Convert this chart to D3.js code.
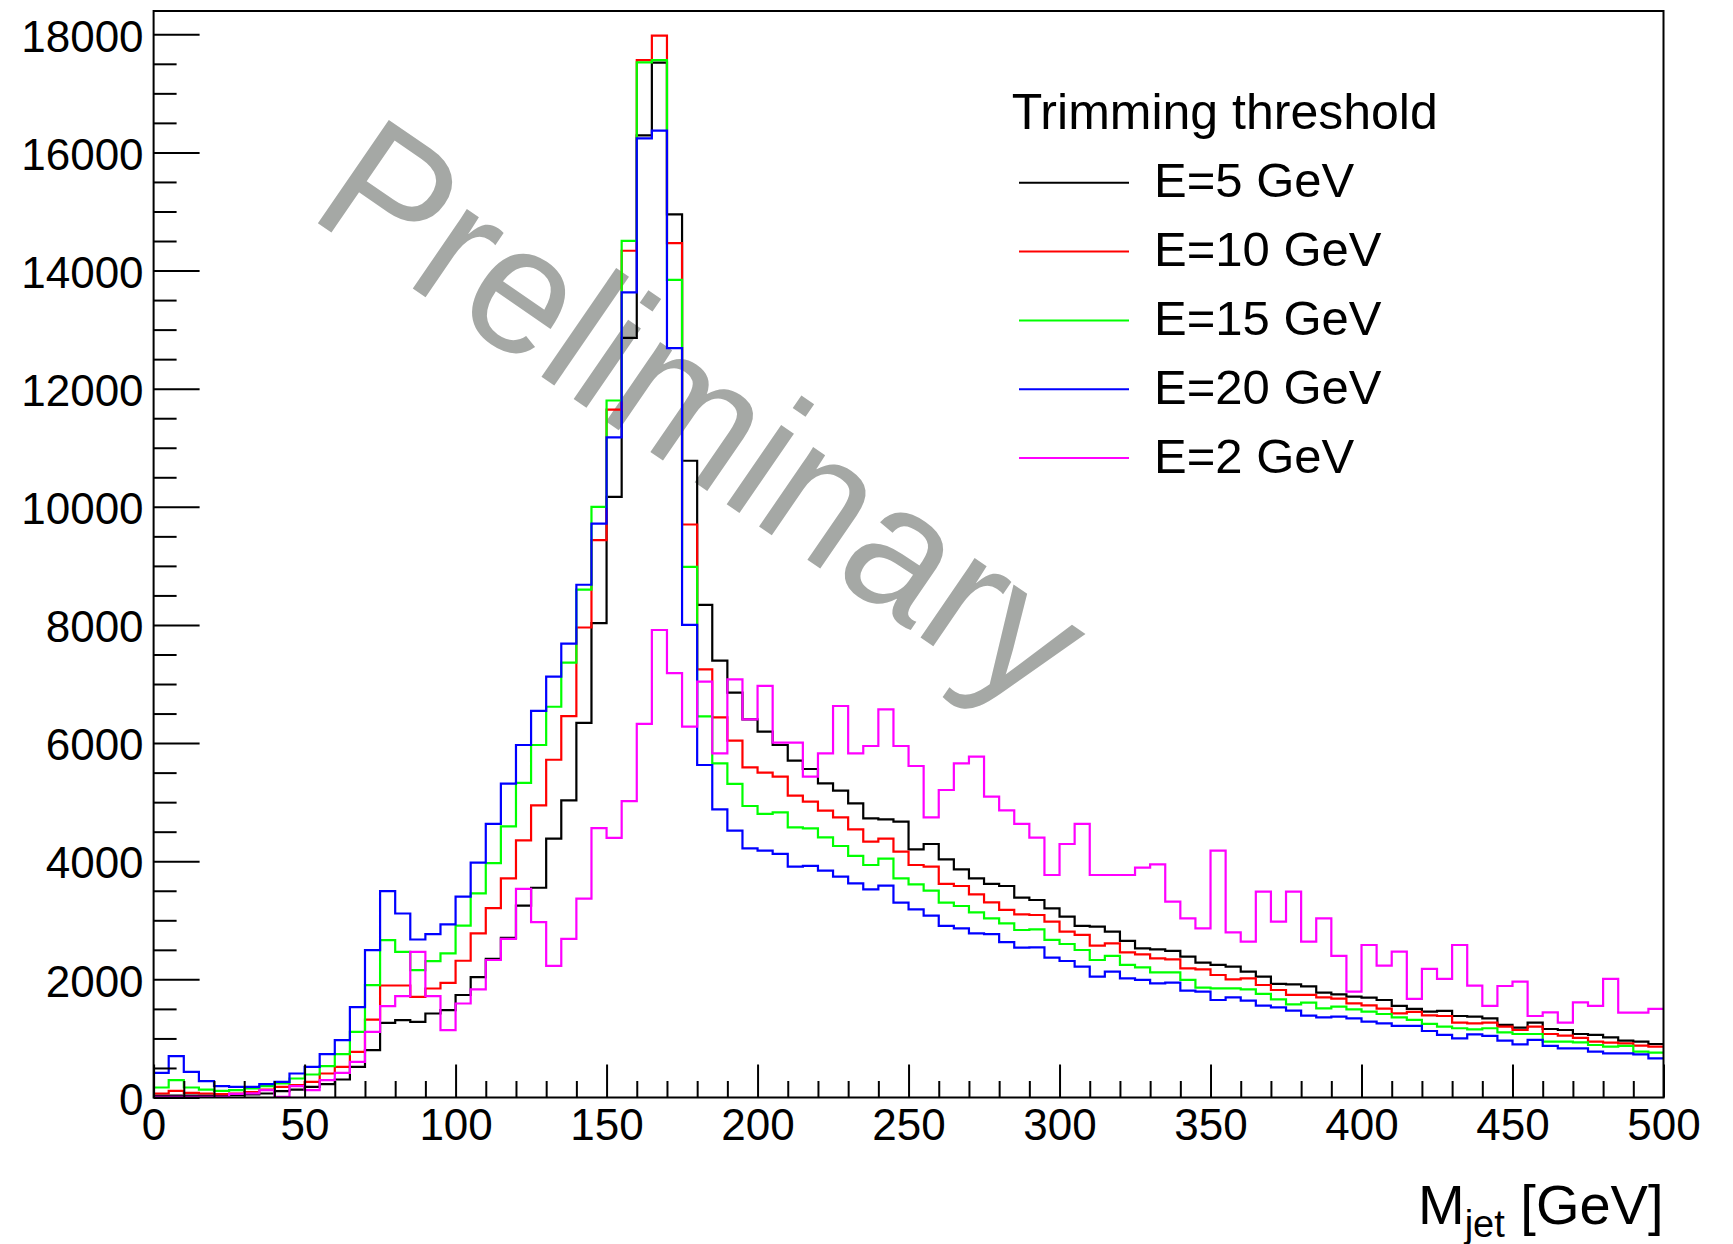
<!DOCTYPE html>
<html>
<head>
<meta charset="utf-8">
<script src="https://cdn.jsdelivr.net/npm/d3@7/dist/d3.min.js"></script>
<style>
  body { margin: 0; background: #fff; }
  svg { display: block; font-family: "Liberation Sans", Arial, Helvetica, sans-serif; }
</style>
</head>
<body>
<div id="chart"></div>
<script>
// bins of 5 GeV from 0 to 500
var binLow = d3.range(0, 500, 5);

// E=5 GeV (black)
var e5 = [34, 34, 34, 34, 34, 40, 51, 68, 107, 135,
  181, 226, 305, 519, 801, 1264, 1309, 1281, 1422, 1480,
  1735, 2037, 2346, 2702, 3248, 3551, 4382, 5030, 6342, 8030,
  10170, 12860, 16290, 17520, 14950, 10780, 8340, 7397, 6854, 6402,
  6194, 5968, 5703, 5561, 5319, 5195, 4980, 4726, 4709, 4670,
  4202, 4292, 4032, 3863, 3711, 3615, 3581, 3383, 3344, 3203,
  3062, 2904, 2893, 2808, 2650, 2526, 2509, 2481, 2385, 2283,
  2244, 2215, 2131, 2046, 1922, 1916, 1880, 1775, 1747, 1708,
  1691, 1651, 1550, 1499, 1454, 1465, 1380, 1369, 1341, 1228,
  1183, 1267, 1160, 1143, 1075, 1059, 1019, 963, 946, 906];

// E=10 GeV (red)
var e10 = [68, 113, 79, 68, 56, 68, 90, 135, 181, 209,
  265, 406, 519, 773, 1320, 1896, 1896, 1704, 1845, 1940,
  2315, 2779, 3207, 3711, 4353, 4946, 5718, 6455, 7957, 9437,
  11644, 14335, 17562, 17977, 14463, 9701, 7249, 6436, 6041, 5590,
  5500, 5432, 5110, 5009, 4856, 4743, 4540, 4331, 4382, 4162,
  3936, 3908, 3615, 3581, 3440, 3305, 3175, 3101, 3090, 2977,
  2808, 2752, 2571, 2610, 2458, 2424, 2356, 2340, 2187, 2170,
  2074, 2001, 2018, 1905, 1820, 1736, 1736, 1696, 1674, 1595,
  1561, 1505, 1425, 1448, 1392, 1380, 1267, 1256, 1267, 1200,
  1143, 1200, 1075, 1047, 1008, 946, 929, 918, 878, 861];

// E=15 GeV (green)
var e15 = [169, 293, 169, 135, 113, 124, 152, 192, 237, 322,
  389, 530, 734, 1112, 1902, 2663, 2466, 2156, 2308, 2440,
  2910, 3456, 3967, 4590, 5326, 5968, 6615, 7363, 8598, 10000,
  11800, 14501, 17524, 17562, 13843, 8983, 6452, 5658, 5308, 4935,
  4800, 4828, 4574, 4557, 4405, 4258, 4089, 3936, 4044, 3711,
  3609, 3502, 3299, 3242, 3135, 3034, 2949, 2836, 2847, 2667,
  2599, 2497, 2328, 2396, 2244, 2204, 2119, 2119, 1990, 1860,
  1849, 1849, 1832, 1753, 1662, 1578, 1606, 1510, 1538, 1493,
  1454, 1414, 1358, 1313, 1245, 1200, 1172, 1155, 1172, 1104,
  1075, 1075, 946, 946, 934, 889, 861, 873, 776, 760];

// E=20 GeV (blue)
var e20 = [418, 700, 435, 277, 192, 181, 181, 226, 265, 406,
  519, 734, 971, 1529, 2494, 3493, 3115, 2675, 2765, 2930,
  3400, 3978, 4632, 5315, 5968, 6544, 7126, 7684, 8681, 9717,
  11175, 13632, 16239, 16368, 12687, 8001, 5629, 4879, 4518, 4219,
  4179, 4123, 3908, 3920, 3840, 3739, 3626, 3524, 3587, 3299,
  3186, 3079, 2904, 2864, 2780, 2765, 2630, 2537, 2543, 2368,
  2311, 2215, 2046, 2131, 2018, 1990, 1933, 1945, 1809, 1792,
  1651, 1696, 1640, 1555, 1527, 1470, 1386, 1357, 1369, 1341,
  1285, 1256, 1211, 1211, 1126, 1059, 1002, 1070, 1042, 963,
  901, 974, 873, 833, 833, 776, 748, 748, 731, 664];

// E=2 GeV (magenta)
var e2 = [11, 11, 11, 11, 11, 60, 70, 124, 10, 192,
  124, 293, 418, 604, 1112, 1546, 1715, 2466, 1715, 1140,
  1591, 1829, 2328, 2684, 3533, 2969, 2227, 2684, 3367, 4560,
  4394, 5018, 6324, 7915, 7185, 6278, 7040, 5827, 7080, 6402,
  6967, 6007, 6007, 5432, 5827, 6628, 5827, 5951, 6572, 5951,
  5612, 4743, 5206, 5658, 5770, 5093, 4860, 4631, 4399, 3767,
  4292, 4631, 3767, 3767, 3767, 3891, 3948, 3316, 3034, 2864,
  4179, 2797, 2638, 3485, 2977, 3485, 2638, 3034, 2396, 1792,
  2582, 2232, 2469, 1668, 2176, 2007, 2582, 1894, 1550, 1888,
  1961, 1380, 1442, 1267, 1612, 1550, 2007, 1437, 1437, 1499];

var seriesNames = ["E=5 GeV", "E=10 GeV", "E=15 GeV", "E=20 GeV", "E=2 GeV"];
var seriesValues = [e5, e10, e15, e20, e2];
var seriesColors = ["#000000", "#ff0000", "#00ff00", "#0000ff", "#ff00ff"];

var yMajorTicks = [0, 2000, 4000, 6000, 8000, 10000, 12000, 14000, 16000, 18000];
var xMajorTicks = [0, 50, 100, 150, 200, 250, 300, 350, 400, 450, 500];

var width = 1733, height = 1244;
var plot = { left: 153.6, right: 1663.5, top: 11, bottom: 1097.5 };

var x = d3.scaleLinear().domain([0, 500]).range([plot.left, plot.right]);
var y = d3.scaleLinear().domain([0, 18394]).range([plot.bottom, plot.top]);

var svg = d3.select("#chart").append("svg")
  .attr("width", width)
  .attr("height", height);

svg.append("defs").append("clipPath")
  .attr("id", "plotClip")
  .append("rect")
  .attr("x", plot.left).attr("y", plot.top)
  .attr("width", plot.right - plot.left)
  .attr("height", plot.bottom - plot.top);

// watermark behind the histograms
svg.append("text")
  .attr("transform", "translate(306,215) rotate(34.5)")
  .attr("font-size", 182)
  .attr("fill", "#a5a8a5")
  .attr("textLength", 880)
  .attr("lengthAdjust", "spacingAndGlyphs")
  .text("Preliminary");

// histograms as step lines
var step = d3.line()
  .x(function (d) { return x(d[0]); })
  .y(function (d) { return y(d[1]); })
  .curve(d3.curveStepAfter);

var histG = svg.append("g").attr("clip-path", "url(#plotClip)");
seriesValues.forEach(function (vals, i) {
  var pts = binLow.map(function (b, k) { return [b, vals[k]]; });
  pts.push([500, vals[vals.length - 1]]);
  histG.append("path")
    .attr("d", step(pts))
    .attr("fill", "none")
    .attr("stroke", seriesColors[i])
    .attr("stroke-width", 2.2);
});

// frame
svg.append("rect")
  .attr("x", plot.left).attr("y", plot.top)
  .attr("width", plot.right - plot.left)
  .attr("height", plot.bottom - plot.top)
  .attr("fill", "none")
  .attr("stroke", "#000")
  .attr("stroke-width", 2);

// y axis: ticks point inward
var yMinor = d3.range(0, 18394, 500).filter(function (v) { return v % 2000 !== 0; });
var yAxisMinor = svg.append("g")
  .attr("transform", "translate(" + plot.left + ",0)")
  .call(d3.axisLeft(y).tickValues(yMinor).tickSize(-23).tickFormat(""));
var yAxis = svg.append("g")
  .attr("transform", "translate(" + plot.left + ",0)")
  .call(d3.axisLeft(y).tickValues(yMajorTicks).tickSize(-46).tickPadding(10).tickFormat(d3.format("d")));

// x axis
var xMinor = d3.range(0, 501, 10).filter(function (v) { return v % 50 !== 0; });
var xAxisMinor = svg.append("g")
  .attr("transform", "translate(0," + plot.bottom + ")")
  .call(d3.axisBottom(x).tickValues(xMinor).tickSize(-16.5).tickFormat(""));
var xAxis = svg.append("g")
  .attr("transform", "translate(0," + plot.bottom + ")")
  .call(d3.axisBottom(x).tickValues(xMajorTicks).tickSize(-33).tickPadding(11).tickFormat(d3.format("d")));

[yAxisMinor, yAxis, xAxisMinor, xAxis].forEach(function (g) {
  g.select(".domain").remove();
  g.selectAll(".tick line").attr("stroke", "#000").attr("stroke-width", 2);
  g.selectAll(".tick text")
    .attr("fill", "#000")
    .attr("font-size", 44)
    .attr("font-family", "\"Liberation Sans\", Arial, Helvetica, sans-serif");
});
yAxis.selectAll(".tick text").attr("dy", "0.38em");

// x axis title
var xt = svg.append("text")
  .attr("x", plot.right)
  .attr("y", 1224)
  .attr("text-anchor", "end")
  .attr("font-size", 56)
  .attr("fill", "#000");
xt.append("tspan").text("M");
xt.append("tspan").attr("font-size", 38).attr("dy", 13).text("jet");
xt.append("tspan").attr("dy", -13).text(" [GeV]");

// legend
var legend = svg.append("g");
legend.append("text")
  .attr("x", 1011.7)
  .attr("y", 129.3)
  .attr("font-size", 50)
  .attr("fill", "#000")
  .text("Trimming threshold");

var entry = legend.selectAll(".entry")
  .data(seriesNames)
  .enter()
  .append("g")
  .attr("class", "entry")
  .attr("transform", function (d, i) { return "translate(0," + (i * 68.85) + ")"; });
entry.append("line")
  .attr("x1", 1019).attr("x2", 1129)
  .attr("y1", 182.7).attr("y2", 182.7)
  .attr("stroke", function (d, i) { return seriesColors[i]; })
  .attr("stroke-width", 2);
entry.append("text")
  .attr("x", 1154)
  .attr("y", 197.3)
  .attr("font-size", 49)
  .attr("fill", "#000")
  .text(function (d) { return d; });
</script>
</body>
</html>
